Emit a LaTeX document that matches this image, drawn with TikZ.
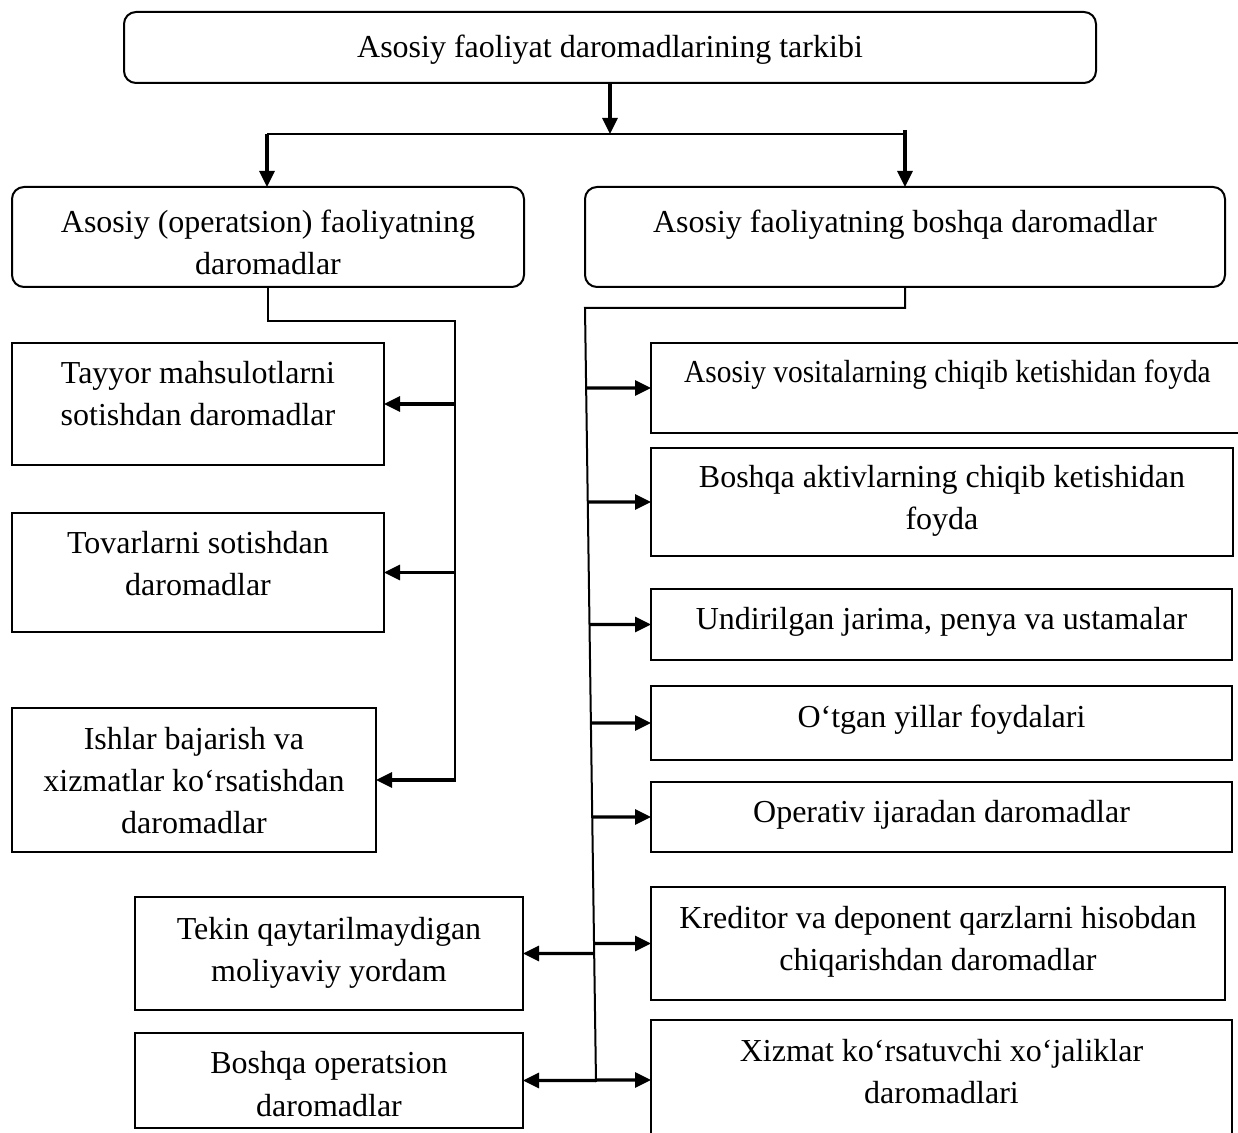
\documentclass[tikz,border=0pt]{standalone}
\usepackage{fontspec}
\setmainfont{Liberation Serif}
\usetikzlibrary{arrows.meta,intersections}

% \cellbox{style}{name}{x1}{y1}{x2}{y2}{first baseline}{text}
% draws a framed box from (x1,y1) to (x2,y2) with its text set from the top
\newcommand\cellbox[8]{%
  \pgfmathsetmacro\cellw{(#5-#3)/2}%
  \pgfmathsetmacro\cellh{(#6-#4)/2}%
  \node[#1] (#2) at (#3,#4)
    {\parbox[c][\cellh pt][t]{\cellw pt}{\centering\rule{0pt}{#7}#8\par}};%
}

\begin{document}
\begin{tikzpicture}[x=0.5pt,y=-0.5pt,
  frame/.style={draw, line width=1pt, inner sep=0pt, outer sep=0pt,
    anchor=north west, font=\fontsize{16}{21}\selectfont},
  roundframe/.style={frame, rounded corners=6pt},
  link/.style={line width=1pt},
  busline/.style={line width=1.2pt},
  arr/.style={line width=1.6pt, -{Triangle[length=8pt,width=7.5pt]}}]

\useasboundingbox (0,0) rectangle (1238,1133);
\fill[white] (0,0) rectangle (1238,1133);
\clip (0,0) rectangle (1238,1133);

% headings
\cellbox{roundframe}{top}{124}{12}{1096}{83}{23pt}{Asosiy faoliyat daromadlarining tarkibi}
\cellbox{roundframe}{L1}{12}{187}{524}{287}{23pt}{Asosiy (operatsion) faoliyatning\\daromadlar}
\cellbox{roundframe}{R1}{585}{187}{1225}{287}{23pt}{Asosiy faoliyatning boshqa daromadlar}

% left column
\cellbox{frame}{A}{12}{343}{384}{465}{20.5pt}{Tayyor mahsulotlarni\\sotishdan daromadlar}
\cellbox{frame}{B}{12}{513}{384}{632}{20.5pt}{Tovarlarni sotishdan\\daromadlar}
\cellbox{frame}{C}{12}{708}{376}{852}{21pt}{Ishlar bajarish va\\xizmatlar ko‘rsatishdan\\daromadlar}
\cellbox{frame}{D}{135}{897}{523}{1010}{21pt}{Tekin qaytarilmaydigan\\moliyaviy yordam}
\cellbox{frame}{E}{135}{1033}{523}{1128}{20.5pt}{Boshqa operatsion\\daromadlar}

% right column
\cellbox{frame}{Ra}{651}{343}{1244}{433}{20pt}{\scalebox{0.92}[1]{Asosiy vositalarning chiqib ketishidan foyda}}
\cellbox{frame}{Rb}{651}{448}{1233}{556}{20pt}{Boshqa aktivlarning chiqib ketishidan\\foyda}
\cellbox{frame}{Rc}{651}{589}{1232}{660}{20.5pt}{Undirilgan jarima, penya va ustamalar}
\cellbox{frame}{Rd}{651}{686}{1232}{760}{21pt}{O‘tgan yillar foydalari}
\cellbox{frame}{Re}{651}{782}{1232}{852}{20.5pt}{Operativ ijaradan daromadlar}
\cellbox{frame}{Rf}{651}{887}{1225}{1000}{20.5pt}{Kreditor va deponent qarzlarni hisobdan\\chiqarishdan daromadlar}
\cellbox{frame}{Rg}{651}{1020}{1232}{1140}{20.5pt}{Xizmat ko‘rsatuvchi xo‘jaliklar\\daromadlari}

% split under the heading
\coordinate (split) at (610,134);
\coordinate (splitL) at (267,134);
\coordinate (splitR) at (905,130);
\draw[arr] (top.south) -- (split);
\draw[busline] (splitL) -- (splitL -| splitR);
\draw[arr] (splitL) -- (splitL |- L1.north);
\draw[arr] (splitR) -- (R1.north);

% left bus
\coordinate (busL) at (455,321);
\coordinate (busLend) at (455,782);
\draw[link] (L1.south) -- (L1.south |- busL) -- (busL) -- (busLend);
\foreach \b in {A,B,C}
  \draw[arr] (busL |- \b.east) -- (\b.east);

% right bus (slightly leaning); branches leave it horizontally
\coordinate (busRtop) at (585,308);
\coordinate (busRbot) at (596,1082);
\draw[link, name path=busR] (R1.south) -- (R1.south |- busRtop) -- (busRtop) -- (busRbot);
\foreach \b/\s in {Ra/west,Rb/west,Rc/west,Rd/west,Re/west,Rf/west,Rg/west,D/east,E/east}{
  \path[name path=branch] (\b.\s -| busL) -- (\b.\s -| Rf.east);
  \draw[arr, name intersections={of=busR and branch, by=hit}] (hit) -- (\b.\s);
}

\end{tikzpicture}
\end{document}
